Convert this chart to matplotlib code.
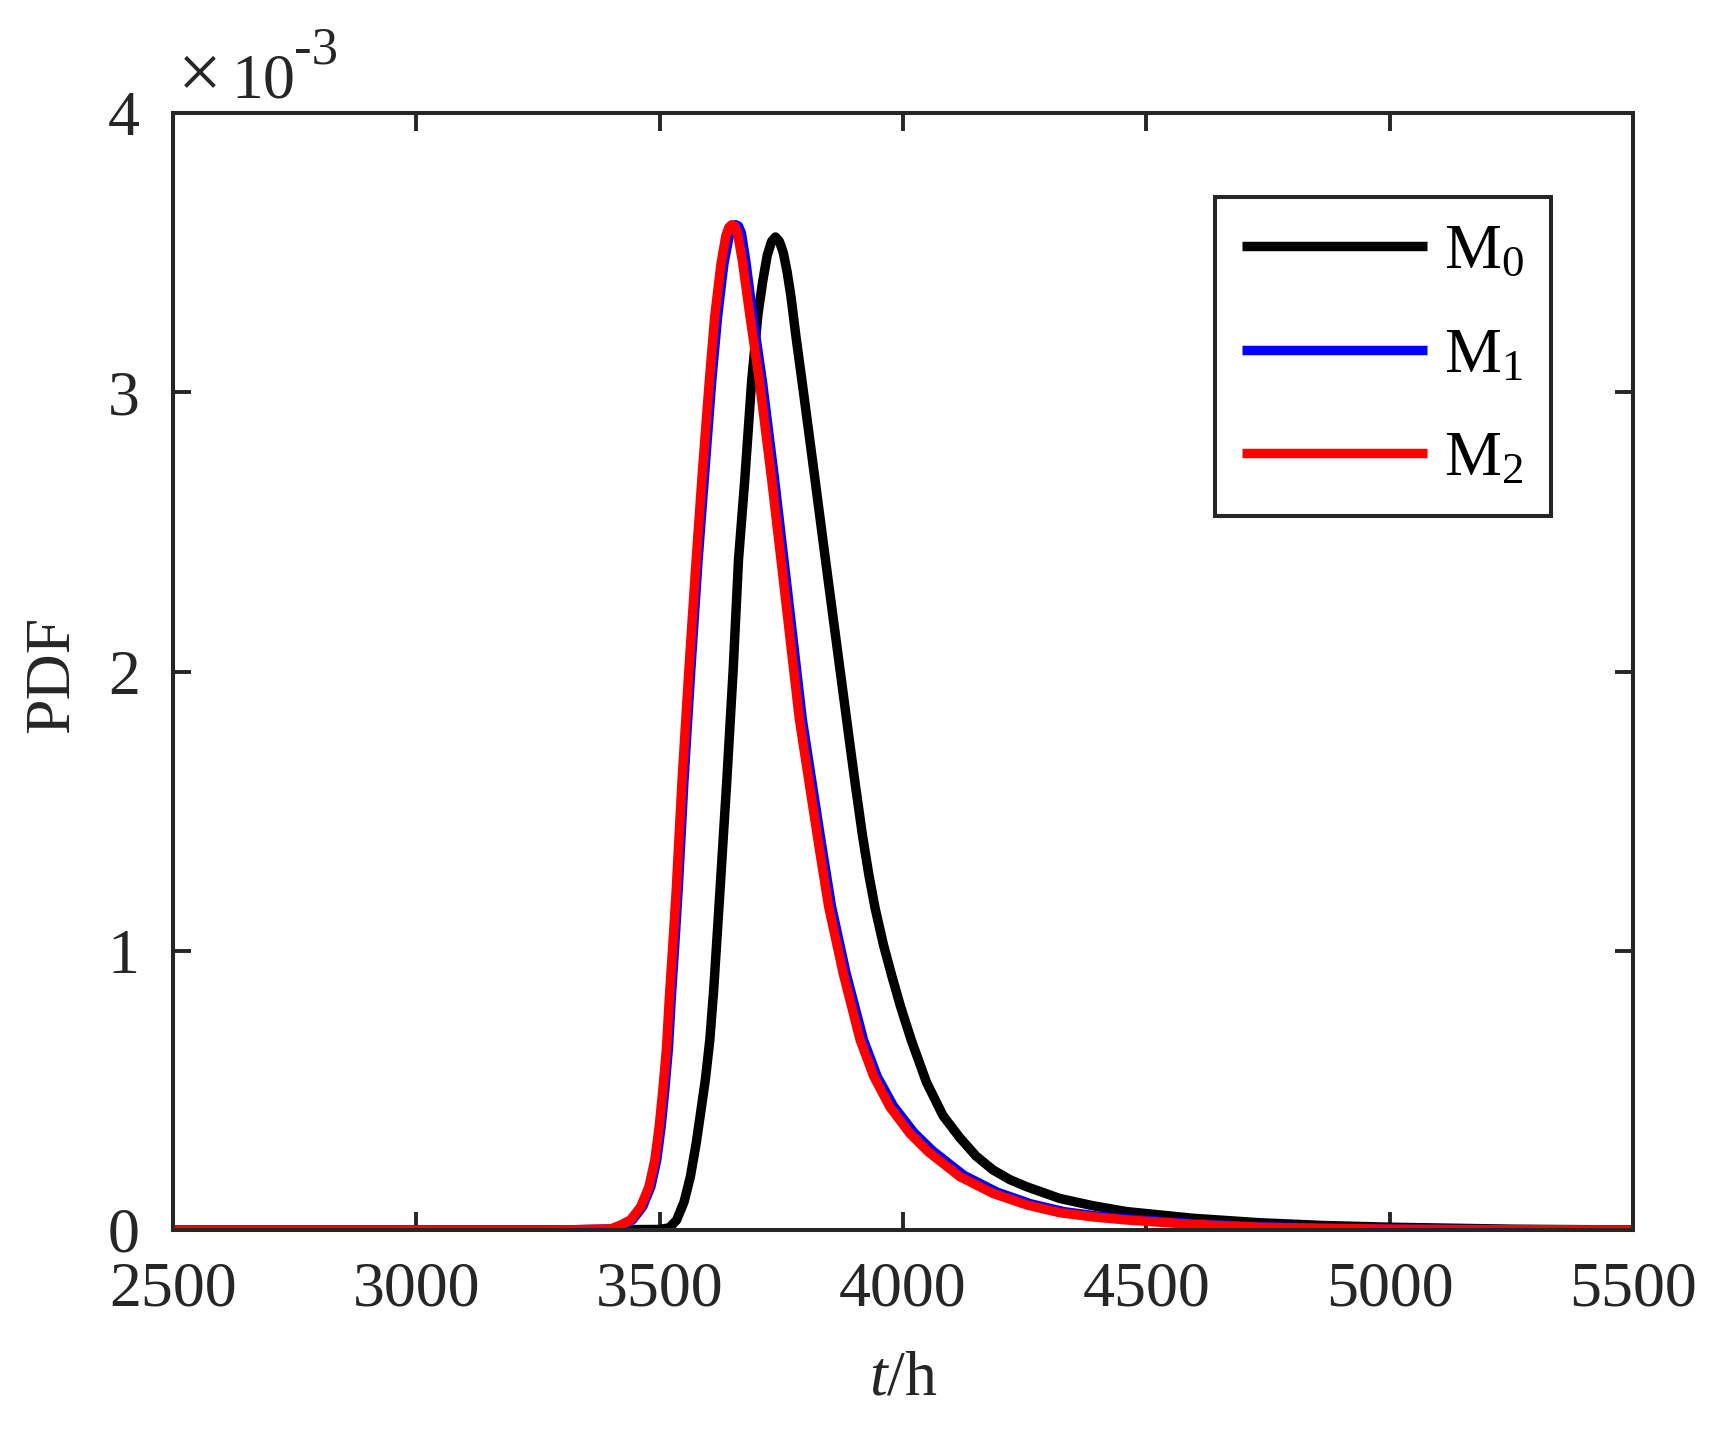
import matplotlib
matplotlib.use("Agg")
import matplotlib.pyplot as plt

plt.rcParams['font.family'] = ['Liberation Serif', 'DejaVu Serif']
plt.rcParams['mathtext.fontset'] = 'custom'
plt.rcParams['mathtext.rm'] = 'Liberation Serif'
plt.rcParams['mathtext.it'] = 'Liberation Serif:italic'

AX_COLOR = '#262626'

# PDF values are in units of 1e-3
t_m0 = [2500, 3300, 3500, 3520, 3535, 3550, 3563, 3575, 3585, 3594, 3603, 3611,
        3624, 3638, 3651, 3662, 3675, 3689, 3702, 3712, 3721, 3730, 3738, 3746,
        3754, 3762, 3770, 3780, 3794, 3819, 3846, 3884, 3900, 3917, 3930, 3943,
        3960, 3977, 3995, 4017, 4048, 4082, 4117, 4150, 4185, 4220, 4254, 4322,
        4390, 4459, 4596, 4733, 4866, 5000, 5250, 5500]
pdf_m0 = [0, 0, 0.002, 0.008, 0.036, 0.10, 0.19, 0.31, 0.43, 0.54, 0.68, 0.86,
          1.217, 1.611, 2.005, 2.40, 2.69, 3.04, 3.28, 3.40, 3.49, 3.54, 3.556, 3.54,
          3.50, 3.43, 3.34, 3.20, 3.02, 2.69, 2.33, 1.83, 1.62, 1.41, 1.27, 1.15,
          1.02, 0.91, 0.80, 0.68, 0.53, 0.41, 0.33, 0.265, 0.215, 0.18, 0.155, 0.113,
          0.087, 0.066, 0.042, 0.026, 0.016, 0.010, 0.003, 0]

t_m1 = [2500, 3300, 3404, 3424, 3444, 3465, 3482, 3494, 3503, 3511, 3518, 3524,
        3531, 3538, 3550, 3564, 3579, 3593, 3607, 3619, 3632, 3643, 3650, 3656,
        3662, 3668, 3677, 3691, 3711, 3736, 3760, 3793, 3831, 3853, 3883, 3919,
        3947, 3980, 4022, 4060, 4125, 4193, 4262, 4330, 4398, 4467, 4604, 4741,
        4874, 5008, 5250, 5500]
pdf_m1 = [0, 0, 0.004, 0.018, 0.036, 0.083, 0.155, 0.25, 0.37, 0.51, 0.65, 0.835,
          1.02, 1.217, 1.611, 2.005, 2.40, 2.72, 3.04, 3.27, 3.46, 3.56, 3.59, 3.60,
          3.595, 3.57, 3.47, 3.28, 3.04, 2.69, 2.33, 1.83, 1.40, 1.16, 0.92, 0.68,
          0.55, 0.445, 0.350, 0.285, 0.196, 0.136, 0.094, 0.066, 0.050, 0.039, 0.022, 0.011,
          0.007, 0.003, 0.001, 0]

t_m2 = [2500, 3300, 3400, 3420, 3440, 3461, 3478, 3490, 3499, 3507, 3514, 3520,
        3527, 3534, 3546, 3560, 3575, 3588, 3602, 3613, 3626, 3636, 3642, 3648,
        3654, 3660, 3670, 3685, 3705, 3730, 3754, 3787, 3825, 3847, 3877, 3912,
        3940, 3973, 4014, 4052, 4117, 4185, 4254, 4322, 4390, 4459, 4596, 4733,
        4866, 5000, 5250, 5500]
pdf_m2 = [0, 0, 0.004, 0.018, 0.036, 0.083, 0.155, 0.25, 0.37, 0.51, 0.65, 0.835,
          1.02, 1.217, 1.611, 2.005, 2.40, 2.72, 3.04, 3.27, 3.46, 3.56, 3.59, 3.60,
          3.595, 3.57, 3.47, 3.28, 3.04, 2.69, 2.33, 1.83, 1.40, 1.16, 0.92, 0.68,
          0.55, 0.441, 0.346, 0.28, 0.191, 0.131, 0.090, 0.062, 0.047, 0.036, 0.020, 0.010,
          0.006, 0.003, 0.001, 0]

labels = [r'M$_0$', r'M$_1$', r'M$_2$']
colors = ['black', 'blue', 'red']
x_ticks = [2500, 3000, 3500, 4000, 4500, 5000, 5500]
y_ticks = [0, 1, 2, 3, 4]

W, H = 1715, 1433
fig = plt.figure(figsize=(W / 200, H / 200), dpi=200)
ax = fig.add_axes([173 / W, 1 - 1230 / H, (1633 - 173) / W, (1230 - 113) / H])

for t, p, c, lab in zip([t_m0, t_m1, t_m2], [pdf_m0, pdf_m1, pdf_m2], colors, labels):
    ax.plot(t, p, color=c, lw=3.4, label=lab, solid_capstyle='butt',
            solid_joinstyle='round')

ax.set_xlim(2500, 5500)
ax.set_ylim(0, 4)
ax.set_xticks(x_ticks)
ax.set_yticks(y_ticks)
ax.tick_params(direction='in', length=6.5, width=1.4, top=True, right=True,
               labelsize=23, color=AX_COLOR, labelcolor=AX_COLOR)
ax.tick_params(axis='x', pad=11.5)
ax.tick_params(axis='y', pad=12)
for s in ax.spines.values():
    s.set_color(AX_COLOR)
    s.set_linewidth(1.45)

ax.set_xlabel(r'$t$/h', fontsize=23, color=AX_COLOR)
ax.xaxis.set_label_coords(0.5, -0.108)
ax.set_ylabel('PDF', fontsize=23, color=AX_COLOR)
ax.yaxis.set_label_coords(-0.062, 0.497)

fig.text(178 / W, 1 - 97 / H, '\u00d7', fontsize=28, color=AX_COLOR, va='baseline', ha='left')
fig.text(231 / W, 1 - 97 / H, '10', fontsize=23, color=AX_COLOR, va='baseline', ha='left')
fig.text(294 / W, 1 - 63 / H, '-3', fontsize=19, color=AX_COLOR, va='baseline', ha='left')

leg = ax.legend(loc='upper right', bbox_to_anchor=(1551 / W, 1 - 197 / H),
                bbox_transform=fig.transFigure, borderaxespad=0, fontsize=23,
                fancybox=False, framealpha=1, edgecolor=AX_COLOR,
                handlelength=2.9, handletextpad=0.27, borderpad=0.42, labelspacing=0.7)
leg.get_frame().set_linewidth(1.45)
for line in leg.get_lines():
    line.set_linewidth(3.4)

fig.savefig('out.png', dpi=200, facecolor='white')
